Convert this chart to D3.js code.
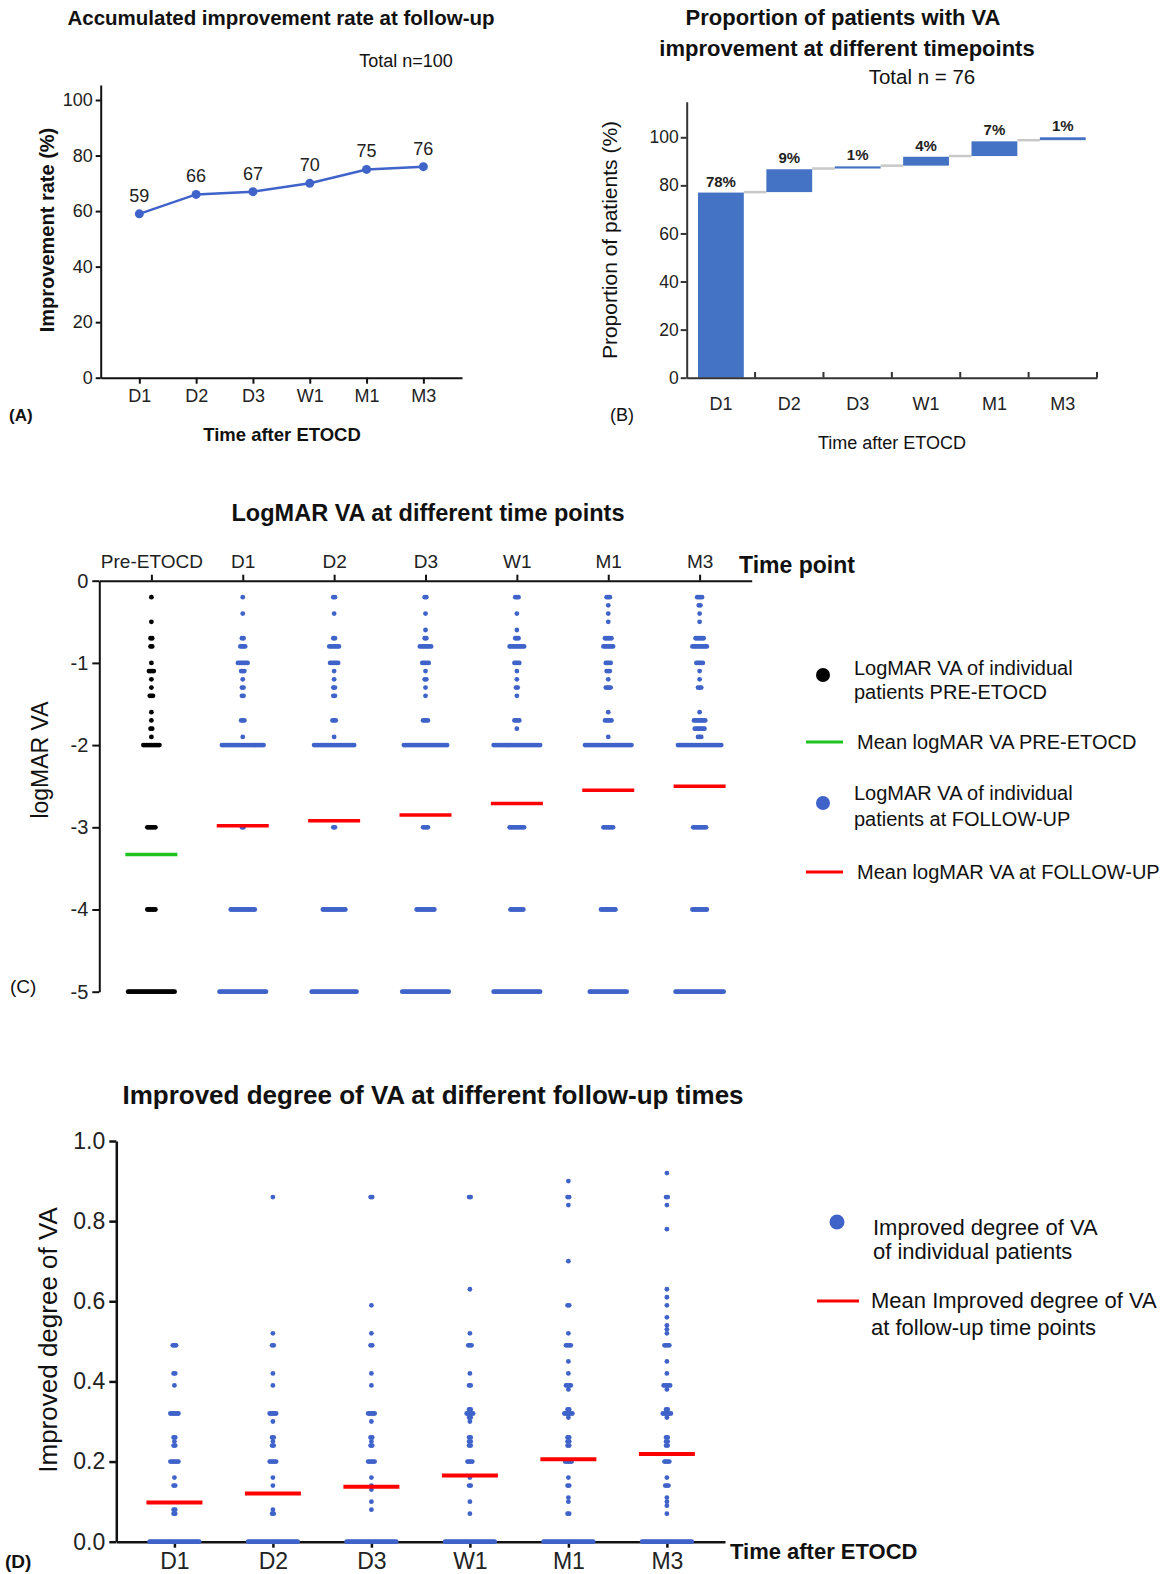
<!DOCTYPE html>
<html>
<head>
<meta charset="utf-8">
<script src="https://cdn.jsdelivr.net/npm/d3@7"></script>
<style>
  body { margin: 0; background: #fff; }
  svg { display: block; font-family: "Liberation Sans", Arial, sans-serif; }
</style>
</head>
<body>
<svg id="fig" width="1163" height="1574"></svg>
<script>
/* =======================
   DATA
======================= */
const timepoints = ["D1", "D2", "D3", "W1", "M1", "M3"];

// (A) accumulated improvement rate (%)
const improvementRate = [59, 66, 67, 70, 75, 76];

// (B) waterfall: where each bar starts / ends (%), and its label
const waterfallStart = [0, 77.2, 87.0, 88.2, 92.2, 98.8];
const waterfallEnd = [77.0, 86.7, 87.9, 91.9, 98.3, 100];
const waterfallLabels = ["78%", "9%", "1%", "4%", "7%", "1%"];

// (C) logMAR VA, [value, number of patients]
const logmarGroups = ["Pre-ETOCD", "D1", "D2", "D3", "W1", "M1", "M3"];
const logmarPre = [[-0.2,1],[-0.5,1],[-0.7,2],[-0.8,2],[-1.0,1],[-1.1,4],[-1.2,1],[-1.3,1],[-1.4,3],[-1.6,1],[-1.7,1],[-1.8,2],[-1.9,1],[-2,11],[-3,6],[-4,6],[-5,30]];
const logmarD1 = [[-0.2,1],[-0.4,1],[-0.7,2],[-0.8,4],[-1.0,7],[-1.1,3],[-1.2,1],[-1.3,2],[-1.4,2],[-1.7,3],[-1.9,1],[-2,27],[-3,2],[-4,16],[-5,30]];
const logmarD2 = [[-0.2,2],[-0.4,1],[-0.7,2],[-0.8,7],[-1.0,6],[-1.1,1],[-1.2,1],[-1.3,2],[-1.4,2],[-1.7,3],[-1.9,1],[-2,26],[-3,2],[-4,15],[-5,29]];
const logmarD3 = [[-0.2,2],[-0.4,1],[-0.6,1],[-0.7,2],[-0.8,8],[-1.0,5],[-1.1,1],[-1.2,2],[-1.3,1],[-1.4,1],[-1.7,4],[-2,28],[-3,4],[-4,12],[-5,30]];
const logmarW1 = [[-0.2,3],[-0.4,1],[-0.6,1],[-0.7,3],[-0.8,10],[-1.0,4],[-1.1,1],[-1.2,1],[-1.3,2],[-1.4,1],[-1.7,4],[-1.8,1],[-2,30],[-3,10],[-4,9],[-5,30]];
const logmarM1 = [[-0.2,3],[-0.3,1],[-0.4,1],[-0.5,1],[-0.7,5],[-0.8,7],[-1.0,4],[-1.1,3],[-1.2,1],[-1.3,4],[-1.6,1],[-1.7,5],[-1.9,1],[-2,30],[-3,7],[-4,10],[-5,24]];
const logmarM3 = [[-0.2,4],[-0.3,2],[-0.4,1],[-0.5,1],[-0.7,6],[-0.8,10],[-1.0,5],[-1.1,1],[-1.2,1],[-1.3,3],[-1.6,1],[-1.7,8],[-1.8,7],[-1.9,3],[-2,28],[-3,9],[-4,10],[-5,31]];
const logmarMeans = [-3.33, -2.98, -2.92, -2.85, -2.71, -2.55, -2.50];

// (D) improved degree of VA, [value, number of patients]
const improvedD1 = [[0.49,3],[0.42,2],[0.39,1],[0.32,6],[0.26,2],[0.25,1],[0.24,2],[0.20,6],[0.16,1],[0.14,2],[0.08,2],[0.07,2],[0,32]];
const improvedD2 = [[0.86,1],[0.52,1],[0.49,2],[0.42,1],[0.39,1],[0.32,5],[0.30,1],[0.26,2],[0.25,1],[0.24,2],[0.20,5],[0.16,1],[0.14,1],[0.08,1],[0.07,2],[0,32]];
const improvedD3 = [[0.86,2],[0.59,1],[0.52,1],[0.49,2],[0.42,1],[0.39,1],[0.32,5],[0.30,1],[0.26,2],[0.25,1],[0.24,2],[0.20,5],[0.16,1],[0.14,1],[0.13,1],[0.10,1],[0.08,1],[0,32]];
const improvedW1 = [[0.86,2],[0.63,1],[0.52,1],[0.49,3],[0.42,1],[0.39,2],[0.33,2],[0.32,5],[0.31,2],[0.30,1],[0.26,2],[0.25,2],[0.24,2],[0.20,4],[0.16,1],[0.14,2],[0.10,1],[0.07,1],[0,32]];
const improvedM1 = [[0.90,1],[0.86,2],[0.84,1],[0.70,1],[0.59,2],[0.52,1],[0.49,4],[0.45,1],[0.42,1],[0.39,4],[0.38,1],[0.33,2],[0.32,6],[0.31,1],[0.26,2],[0.25,2],[0.24,2],[0.20,5],[0.16,1],[0.14,2],[0.11,1],[0.10,1],[0.07,2],[0,32]];
const improvedM3 = [[0.92,1],[0.86,2],[0.84,1],[0.78,1],[0.63,1],[0.61,1],[0.59,1],[0.56,1],[0.54,1],[0.53,1],[0.52,1],[0.49,4],[0.45,1],[0.42,1],[0.39,5],[0.38,1],[0.33,2],[0.32,6],[0.31,1],[0.26,2],[0.25,2],[0.24,2],[0.20,4],[0.16,1],[0.14,3],[0.11,1],[0.10,1],[0.09,1],[0.07,1],[0,32]];
const improvedMeans = [0.098, 0.12, 0.137, 0.165, 0.206, 0.219];

/* =======================
   HELPERS
======================= */
const BLUE = "#3f63c9";
const svg = d3.select("#fig");
svg.append("rect").attr("width", 1163).attr("height", 1574).attr("fill", "#fff");

const styleAxis = (g, { stroke = "#111", width = 2, font = 18, color = "#222" } = {}) => {
    g.select(".domain").attr("stroke", stroke).attr("stroke-width", width);
    g.selectAll(".tick line").attr("stroke", stroke).attr("stroke-width", width);
    g.selectAll(".tick text").attr("font-size", font).attr("fill", color)
        .attr("font-family", "Liberation Sans, Arial, sans-serif");
};

const label = (x, y, txt, { size = 18, bold = false, anchor = "middle", rotate = false, color = "#111" } = {}) => {
    const t = svg.append("text")
        .attr("font-size", size)
        .attr("font-weight", bold ? "bold" : "normal")
        .attr("text-anchor", anchor)
        .attr("dy", "0.35em")
        .attr("fill", color)
        .text(txt);
    if (rotate) t.attr("transform", `translate(${x},${y}) rotate(-90)`);
    else t.attr("x", x).attr("y", y);
    return t;
};

// rows of identical values placed side by side, like a scatter dot plot
const dotRow = (g, data, cx, yScale, color, spacing = 1.6, r = 2.4) => {
    data.forEach(([v, n]) => {
        for (let i = 0; i < n; i++) {
            g.append("circle")
                .attr("cx", cx + (i - (n - 1) / 2) * spacing)
                .attr("cy", yScale(v))
                .attr("r", r)
                .attr("fill", color);
        }
    });
};

/* =======================
   (A) LINE CHART
======================= */
{
    const xA = d3.scalePoint().domain(timepoints).range([100.7, 462]).padding(0.68);
    const yA = d3.scaleLinear().domain([0, 105.4]).range([377.7, 85]);

    svg.append("g").attr("transform", "translate(100.7,0)")
        .call(d3.axisLeft(yA).tickValues(d3.range(0, 101, 20)).tickSize(5).tickSizeOuter(0).tickPadding(3))
        .call(styleAxis);
    svg.append("g").attr("transform", "translate(0,377.7)")
        .call(d3.axisBottom(xA).tickSize(6).tickSizeOuter(0).tickPadding(6))
        .call(styleAxis);

    const pts = timepoints.map((c, i) => ({ c, v: improvementRate[i] }));
    svg.append("path").datum(pts)
        .attr("fill", "none").attr("stroke", BLUE).attr("stroke-width", 2.5)
        .attr("d", d3.line().x(d => xA(d.c)).y(d => yA(d.v)));
    svg.selectAll(".ptA").data(pts).enter().append("circle")
        .attr("cx", d => xA(d.c)).attr("cy", d => yA(d.v)).attr("r", 4.5).attr("fill", BLUE);
    svg.selectAll(".lblA").data(pts).enter().append("text")
        .attr("x", d => xA(d.c)).attr("y", d => yA(d.v) - 12)
        .attr("text-anchor", "middle").attr("font-size", 18).attr("fill", "#222")
        .text(d => d.v);

    label(281, 18, "Accumulated improvement rate at follow-up", { size: 20.5, bold: true });
    label(406, 61, "Total n=100", { size: 18 });
    label(47, 230, "Improvement rate (%)", { size: 20, bold: true, rotate: true });
    label(282, 435, "Time after ETOCD", { size: 18.5, bold: true });
    label(9, 415, "(A)", { size: 17, bold: true, anchor: "start" });
}

/* =======================
   (B) WATERFALL
======================= */
{
    const xB = d3.scaleBand().domain(timepoints).range([686.7, 1097]).paddingInner(0.33).paddingOuter(0.165);
    const yB = d3.scaleLinear().domain([0, 114.8]).range([377.7, 101.7]);
    const bw = xB.bandwidth();

    // connectors
    timepoints.slice(0, -1).forEach((c, i) => {
        svg.append("line")
            .attr("x1", xB(c) + bw).attr("x2", xB(timepoints[i + 1]))
            .attr("y1", yB(waterfallStart[i + 1])).attr("y2", yB(waterfallStart[i + 1]))
            .attr("stroke", "#c8c8c8").attr("stroke-width", 2.5);
    });

    timepoints.forEach((c, i) => {
        svg.append("rect")
            .attr("x", xB(c)).attr("width", bw)
            .attr("y", yB(waterfallEnd[i]))
            .attr("height", yB(waterfallStart[i]) - yB(waterfallEnd[i]))
            .attr("fill", "#4472c4");
        svg.append("text")
            .attr("x", xB(c) + bw / 2).attr("y", yB(waterfallEnd[i]) - 6)
            .attr("text-anchor", "middle").attr("font-size", 15).attr("font-weight", "bold")
            .attr("fill", "#222")
            .text(waterfallLabels[i]);
    });

    svg.append("g").attr("transform", "translate(686.7,0)")
        .call(d3.axisLeft(yB).tickValues(d3.range(0, 101, 20)).tickSize(6).tickSizeOuter(0).tickPadding(2))
        .call(g => styleAxis(g, { stroke: "#333", font: 17.5 }));
    svg.append("g").attr("transform", "translate(0,377.7)")
        .call(d3.axisBottom(xB).tickSize(0).tickPadding(20))
        .call(g => styleAxis(g, { stroke: "#333", font: 18 }));
    // ticks on category boundaries
    d3.range(1, timepoints.length + 1).forEach(i => {
        const x = xB.range()[0] + i * xB.step();
        svg.append("line").attr("x1", x).attr("x2", x).attr("y1", 377.7).attr("y2", 372)
            .attr("stroke", "#333").attr("stroke-width", 2);
    });

    label(843, 17, "Proportion of patients with VA", { size: 22, bold: true });
    label(847, 48, "improvement at different timepoints", { size: 22, bold: true });
    label(922, 77, "Total n = 76", { size: 20.5 });
    label(610, 240, "Proportion of patients (%)", { size: 21, rotate: true });
    label(892, 443, "Time after ETOCD", { size: 18 });
    label(610, 415, "(B)", { size: 18, anchor: "start" });
}

/* =======================
   (C) LOGMAR DOT PLOT
======================= */
{
    const xC = d3.scalePoint().domain(logmarGroups).range([99.3, 751.7]).padding(0.57);
    const yC = d3.scaleLinear().domain([-5, 0]).range([991.7, 580.7]);
    const groups = [logmarPre, logmarD1, logmarD2, logmarD3, logmarW1, logmarM1, logmarM3];

    svg.append("g").attr("transform", "translate(0,580.7)")
        .call(d3.axisTop(xC).tickSize(6).tickSizeOuter(0).tickPadding(7))
        .call(g => styleAxis(g, { font: 19 }));
    svg.append("g").attr("transform", "translate(99.3,0)")
        .call(d3.axisLeft(yC).tickValues([0, -1, -2, -3, -4, -5]).tickFormat(d => String(d))
            .tickSize(7).tickSizeOuter(0).tickPadding(4))
        .call(g => styleAxis(g, { font: 20 }));

    const dots = svg.append("g");
    groups.forEach((data, i) => {
        dotRow(dots, data, xC(logmarGroups[i]), yC, i === 0 ? "#000" : BLUE);
    });
    logmarMeans.forEach((m, i) => {
        const cx = xC(logmarGroups[i]);
        svg.append("line")
            .attr("x1", cx - 26).attr("x2", cx + 26)
            .attr("y1", yC(m)).attr("y2", yC(m))
            .attr("stroke", i === 0 ? "#1ec31e" : "#ff0000").attr("stroke-width", 3.5);
    });

    label(428, 513, "LogMAR VA at different time points", { size: 23.5, bold: true });
    label(739, 565, "Time point", { size: 23, bold: true, anchor: "start" });
    label(40, 760, "logMAR VA", { size: 23, rotate: true });
    label(10, 986, "(C)", { size: 19, anchor: "start" });

    // legend
    svg.append("circle").attr("cx", 823).attr("cy", 675).attr("r", 7).attr("fill", "#000");
    label(854, 668, "LogMAR VA of individual", { size: 20, anchor: "start" });
    label(854, 692, "patients PRE-ETOCD", { size: 20, anchor: "start" });
    svg.append("line").attr("x1", 806).attr("x2", 843).attr("y1", 742).attr("y2", 742)
        .attr("stroke", "#1ec31e").attr("stroke-width", 3);
    label(857, 742, "Mean logMAR VA PRE-ETOCD", { size: 20, anchor: "start" });
    svg.append("circle").attr("cx", 823).attr("cy", 803).attr("r", 7).attr("fill", BLUE);
    label(854, 793, "LogMAR VA of individual", { size: 20, anchor: "start" });
    label(854, 819, "patients at FOLLOW-UP", { size: 20, anchor: "start" });
    svg.append("line").attr("x1", 806).attr("x2", 843).attr("y1", 872).attr("y2", 872)
        .attr("stroke", "#ff0000").attr("stroke-width", 3);
    label(857, 872, "Mean logMAR VA at FOLLOW-UP", { size: 20, anchor: "start" });
}

/* =======================
   (D) IMPROVED DEGREE DOT PLOT
======================= */
{
    const xD = d3.scalePoint().domain(timepoints).range([116.3, 725]).padding(0.59);
    const yD = d3.scaleLinear().domain([0, 1]).range([1541.7, 1141]);
    const groups = [improvedD1, improvedD2, improvedD3, improvedW1, improvedM1, improvedM3];

    svg.append("g").attr("transform", "translate(116.3,0)")
        .call(d3.axisLeft(yD).tickValues(d3.range(0, 1.01, 0.2)).tickFormat(d3.format(".1f"))
            .tickSize(7).tickSizeOuter(0).tickPadding(4))
        .call(g => styleAxis(g, { width: 2.5, font: 23 }));
    svg.append("g").attr("transform", "translate(0,1541.7)")
        .call(d3.axisBottom(xD).tickSize(6).tickSizeOuter(0).tickPadding(5))
        .call(g => styleAxis(g, { width: 2.5, font: 23 }));

    const dots = svg.append("g");
    groups.forEach((data, i) => dotRow(dots, data, xD(timepoints[i]), yD, BLUE));
    improvedMeans.forEach((m, i) => {
        const cx = xD(timepoints[i]);
        svg.append("line")
            .attr("x1", cx - 28).attr("x2", cx + 28)
            .attr("y1", yD(m)).attr("y2", yD(m))
            .attr("stroke", "#ff0000").attr("stroke-width", 4);
    });

    label(433, 1095, "Improved degree of VA at different follow-up times", { size: 26, bold: true });
    label(730, 1551, "Time after ETOCD", { size: 22, bold: true, anchor: "start" });
    label(48, 1340, "Improved degree of VA", { size: 26, rotate: true });
    label(5, 1561, "(D)", { size: 19, bold: true, anchor: "start" });

    // legend
    svg.append("circle").attr("cx", 837).attr("cy", 1222).attr("r", 7.5).attr("fill", BLUE);
    label(873, 1227, "Improved degree of VA", { size: 22, anchor: "start" });
    label(873, 1251, "of individual patients", { size: 22, anchor: "start" });
    svg.append("line").attr("x1", 817).attr("x2", 859).attr("y1", 1301).attr("y2", 1301)
        .attr("stroke", "#ff0000").attr("stroke-width", 3);
    label(871, 1300, "Mean Improved degree of VA", { size: 22, anchor: "start" });
    label(871, 1327, "at follow-up time points", { size: 22, anchor: "start" });
}
</script>
</body>
</html>
